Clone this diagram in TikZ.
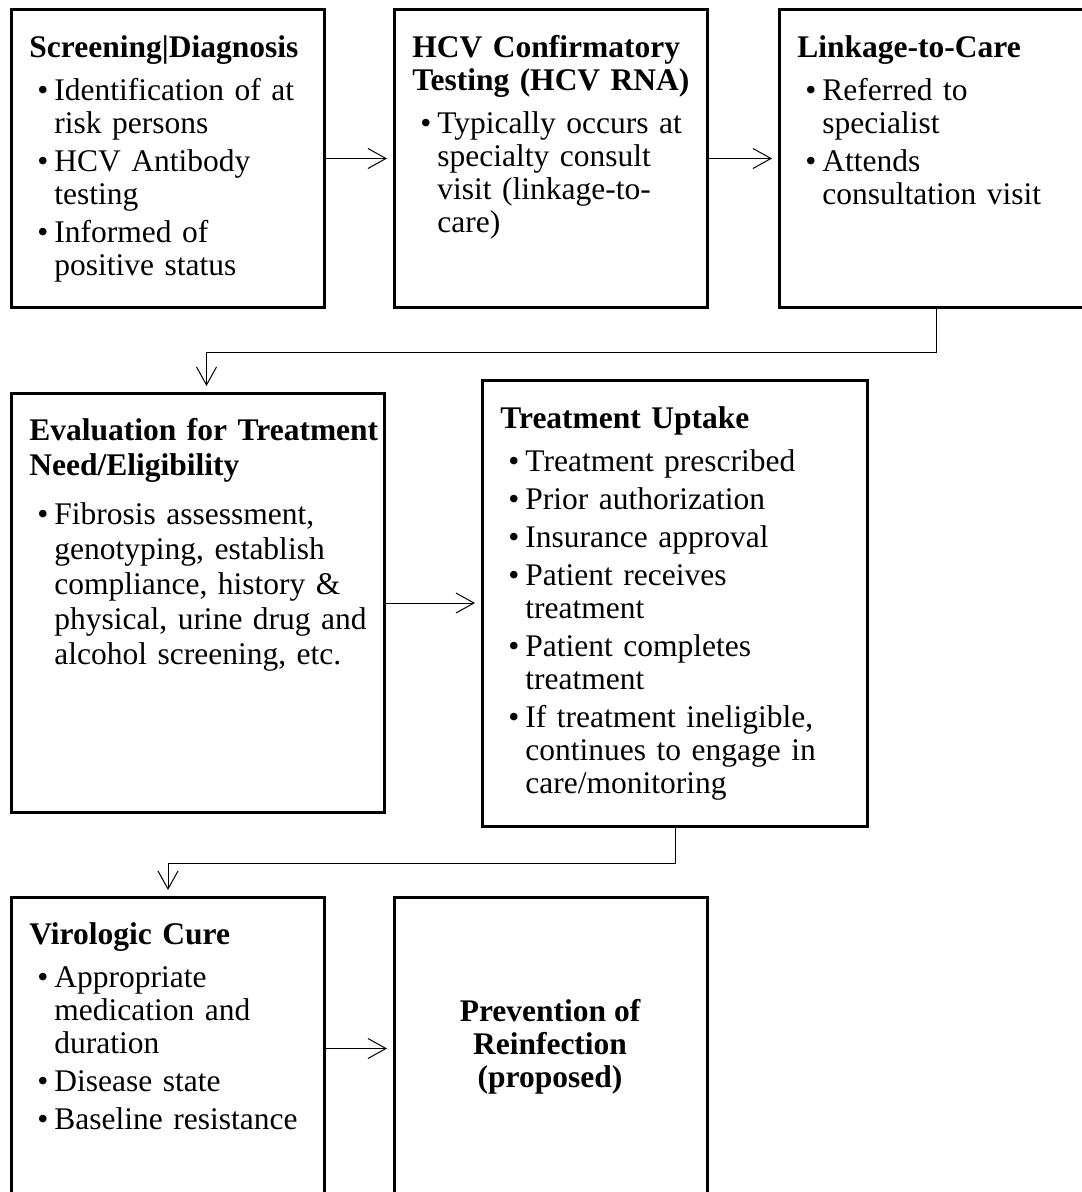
\documentclass[tikz,border=0pt]{standalone}
\usepackage{fontspec}
\setmainfont{Liberation Serif}
\usetikzlibrary{positioning,arrows.meta}

\tikzset{
  stagebox/.style={draw, line width=1.5pt, inner sep=0pt, anchor=north west},
  stagetext/.style={inner sep=0pt, text width=200pt,
    font=\fontsize{15.75}{16.5}\selectfont, execute at begin node=\raggedright},
  flow/.style={line width=0.5pt, -{Straight Barb[length=9pt,width=10pt]}, shorten >=3pt},
}
\newcommand{\stagebr}{\unskip\nobreak\hfil\break}
\newcommand{\stagehead}[1]{\noindent{\let\\\stagebr\textbf{#1}}\par\vspace{2.5pt}}
\newcommand{\stageitem}[1]{\par\vspace{2.5pt}\hangindent=12.5pt\hangafter=1\noindent
  \makebox[12.5pt][l]{\hspace{4pt}\textbullet}{\let\\\stagebr #1}\par}

\begin{document}
\begin{tikzpicture}[x=0.5pt, y=-0.5pt]
      \useasboundingbox (0,0) rectangle (1081,1192);
      % boxes
      \node[stagebox, minimum width=156.5pt, minimum height=149pt] (screen) at (10,8) {};
      \node[stagebox, minimum width=156.5pt, minimum height=149pt] (confirm) at (393,8) {};
      \node[stagebox, minimum width=157pt, minimum height=149pt] (linkage) at (778,8) {};
      \node[stagebox, minimum width=186.5pt, minimum height=209.5pt] (eval) at (10,392) {};
      \node[stagebox, minimum width=192.5pt, minimum height=223pt] (uptake) at (481,379) {};
      \node[stagebox, minimum width=156.5pt, minimum height=151pt] (cure) at (10,896) {};
      \node[stagebox, minimum width=156.5pt, minimum height=151pt] (prevent) at (393,896) {};
      % texts
      \node[stagetext, below right=13.5pt and 9.5pt of screen.north west] (screentxt) {%
        \stagehead{Screening|Diagnosis}
        \stageitem{Identification of at\\risk persons}
        \stageitem{HCV Antibody\\testing}
        \stageitem{Informed of\\positive status}};
      \node[stagetext, below right=13.5pt and 9.5pt of confirm.north west] (confirmtxt) {%
        \stagehead{HCV Confirmatory\\Testing (HCV RNA)}
        \stageitem{Typically occurs at\\specialty consult\\visit (linkage-to-\\care)}};
      \node[stagetext, below right=13.5pt and 9.5pt of linkage.north west] (linkagetxt) {%
        \stagehead{Linkage-to-Care}
        \stageitem{Referred to\\specialist}
        \stageitem{Attends\\consultation visit}};
      \node[stagetext, font=\fontsize{15.75}{17.5}\selectfont,
        below right=13pt and 9.5pt of eval.north west] (evaltxt) {%
        \stagehead{Evaluation for Treatment\\Need/Eligibility}\vspace{2pt}
        \stageitem{Fibrosis assessment,\\genotyping, establish\\compliance, history \&\\physical, urine drug and\\alcohol screening, etc.}};
      \node[stagetext, below right=13.5pt and 9.5pt of uptake.north west] (uptaketxt) {%
        \stagehead{Treatment Uptake}
        \stageitem{Treatment prescribed}
        \stageitem{Prior authorization}
        \stageitem{Insurance approval}
        \stageitem{Patient receives\\treatment}
        \stageitem{Patient completes\\treatment}
        \stageitem{If treatment ineligible,\\continues to engage in\\care/monitoring}};
      \node[stagetext, below right=13pt and 9.5pt of cure.north west] (curetxt) {%
        \stagehead{Virologic Cure}
        \stageitem{Appropriate\\medication and\\duration}
        \stageitem{Disease state}
        \stageitem{Baseline resistance}};
      \node[align=center, inner sep=0pt, font=\fontsize{15.75}{16.5}\selectfont\bfseries]
        (preventtxt) at (550,1047) {Prevention of\\Reinfection\\(proposed)};
      % connectors
      \draw[flow] (screen.east) -- (confirm.west);
      \draw[flow] (confirm.east) -- (linkage.west);
      \draw[flow] (linkage.south) -- ++(0,43) -| ([xshift=4.25pt]eval.north);
      \draw[flow] (eval.east) -- (eval.east -| uptake.west);
      \draw[flow] (uptake.south) -- ++(0,35) -| (cure.north);
      \draw[flow] (cure.east) -- (prevent.west);
    \end{tikzpicture}
\end{document}
